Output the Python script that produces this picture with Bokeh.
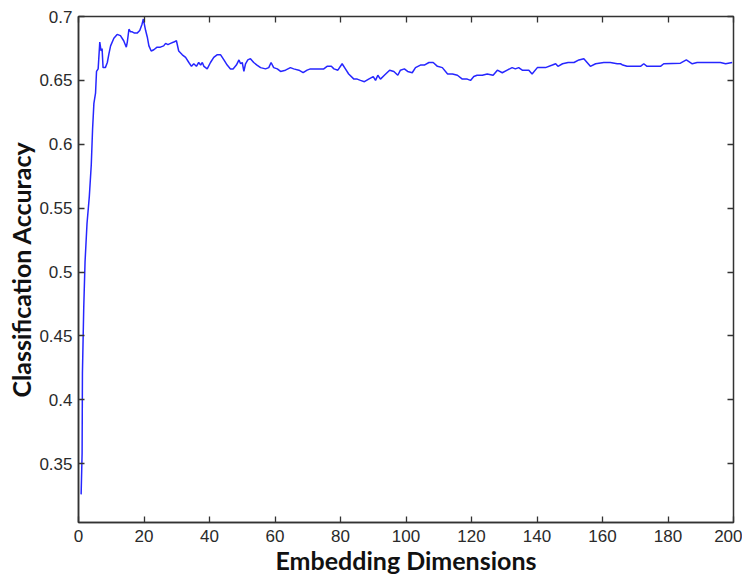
from bokeh.plotting import figure
from bokeh.models import LinearAxis, FixedTicker, CustomJSTickFormatter, Range1d
from bokeh.embed import file_html
from bokeh.resources import INLINE

dims = [0.8, 1.1, 1.2, 1.6, 2.0, 2.6, 3.3, 3.9, 4.3, 4.7, 5.2, 5.5, 6.0, 6.5, 6.9, 7.2, 7.5, 8.2, 8.8, 9.3,
        9.8, 10.8, 11.8, 12.8, 13.8, 14.6, 14.9, 15.4, 15.9, 16.4, 17.1, 17.9, 18.7, 19.4, 19.8, 20.5, 21.0,
        21.5, 22.2, 23.0, 24.0, 25.0, 26.0, 26.6, 27.3, 28.1, 29.1, 29.9, 30.6, 31.7, 32.7, 33.7, 34.5, 35.2,
        36.0, 36.7, 37.3, 37.8, 38.3, 39.3, 40.3, 41.3, 42.3, 43.4, 44.4, 45.4, 46.4, 47.2, 48.2, 49.0, 49.5,
        50.0, 50.5, 51.0, 51.7, 52.5, 53.5, 54.5, 55.6, 57.1, 58.1, 58.8, 59.6, 60.7, 61.7, 63.2, 64.7, 65.7,
        67.3, 68.6, 69.8, 70.8, 72.9, 74.9, 75.9, 77.2, 78.0, 79.2, 80.5, 81.5, 82.5, 84.1, 85.1, 86.1, 87.3,
        88.6, 90.0, 90.7, 91.4, 92.2, 93.4, 95.0, 96.3, 97.5, 98.3, 99.5, 100.5, 101.9, 102.9, 104.4, 105.6,
        107.0, 108.3, 109.6, 111.1, 112.7, 114.2, 115.7, 117.2, 118.7, 119.7, 120.7, 121.7, 123.3, 124.8,
        126.6, 127.9, 129.4, 130.9, 132.4, 133.4, 134.4, 135.5, 137.5, 138.5, 140.1, 142.6, 144.7, 145.7,
        146.4, 147.8, 149.5, 151.3, 152.8, 154.3, 155.3, 156.3, 157.9, 160.4, 162.4, 164.5, 165.5, 166.2,
        167.5, 171.6, 172.6, 173.6, 177.7, 178.7, 183.8, 185.6, 187.4, 188.9, 196.0, 197.6, 199.6]

accuracy = [0.326, 0.358, 0.421, 0.472, 0.508, 0.538, 0.559, 0.584, 0.612, 0.632, 0.640, 0.657, 0.659, 0.680,
            0.673, 0.675, 0.660, 0.660, 0.664, 0.671, 0.677, 0.683, 0.686, 0.685, 0.681, 0.676, 0.680, 0.690,
            0.688, 0.688, 0.687, 0.687, 0.689, 0.694, 0.698, 0.689, 0.684, 0.677, 0.673, 0.674, 0.676, 0.676,
            0.677, 0.679, 0.678, 0.679, 0.680, 0.681, 0.673, 0.670, 0.668, 0.664, 0.661, 0.663, 0.661, 0.664,
            0.662, 0.664, 0.661, 0.659, 0.664, 0.668, 0.670, 0.670, 0.666, 0.662, 0.659, 0.659, 0.662, 0.666,
            0.663, 0.664, 0.657, 0.663, 0.666, 0.667, 0.664, 0.662, 0.660, 0.659, 0.660, 0.664, 0.660, 0.659,
            0.657, 0.658, 0.660, 0.659, 0.658, 0.656, 0.658, 0.659, 0.659, 0.659, 0.661, 0.661, 0.659, 0.658,
            0.663, 0.659, 0.655, 0.651, 0.651, 0.650, 0.649, 0.651, 0.653, 0.650, 0.654, 0.651, 0.654, 0.658,
            0.657, 0.654, 0.658, 0.659, 0.657, 0.656, 0.660, 0.662, 0.662, 0.664, 0.664, 0.661, 0.660, 0.655,
            0.655, 0.654, 0.651, 0.651, 0.650, 0.653, 0.654, 0.654, 0.655, 0.654, 0.658, 0.656, 0.658, 0.660,
            0.659, 0.660, 0.658, 0.658, 0.655, 0.660, 0.660, 0.662, 0.663, 0.661, 0.663, 0.664, 0.664, 0.666,
            0.667, 0.664, 0.661, 0.663, 0.664, 0.664, 0.663, 0.663, 0.662, 0.661, 0.661, 0.663, 0.661, 0.661,
            0.663, 0.6635, 0.666, 0.663, 0.664, 0.664, 0.663, 0.664]

x_ticks = [0, 20, 40, 60, 80, 100, 120, 140, 160, 180, 200]
y_ticks = [0.35, 0.4, 0.45, 0.5, 0.55, 0.6, 0.65, 0.7]

p = figure(width=742, height=579, output_backend="svg", toolbar_location=None,
           x_range=Range1d(0, 200), y_range=Range1d(0.304, 0.7),
           min_border_left=78, min_border_right=9, min_border_top=16, min_border_bottom=57)
p.grid.visible = False
p.outline_line_color = "#333333"
p.outline_line_width = 1.5
p.background_fill_color = "white"
p.border_fill_color = "white"

p.line(dims, accuracy, line_color="#2626ff", line_width=1.5)

fmt = CustomJSTickFormatter(code="return tick.toString();")
for ax in [p.xaxis[0], p.yaxis[0]]:
    ax.major_tick_in = 6
    ax.major_tick_out = 0
    ax.minor_tick_line_color = None
    ax.axis_line_color = "#333333"
    ax.axis_line_width = 1.5
    ax.major_tick_line_color = "#333333"
    ax.major_tick_line_width = 1.3
    ax.major_label_text_font = "Liberation Sans"
    ax.major_label_text_font_size = "17px"
    ax.major_label_text_color = "#2a2a2a"
    ax.axis_label_text_font = "Lato"
    ax.axis_label_text_font_style = "bold"
    ax.axis_label_text_font_size = "25px"
    ax.axis_label_text_color = "#111111"
    ax.formatter = fmt

p.xaxis[0].ticker = FixedTicker(ticks=x_ticks)
p.yaxis[0].ticker = FixedTicker(ticks=y_ticks)
p.xaxis[0].axis_label = "Embedding Dimensions"
p.yaxis[0].axis_label = "Classification Accuracy"
p.xaxis[0].major_label_standoff = 7
p.yaxis[0].major_label_standoff = 6
p.xaxis[0].axis_label_standoff = 0
p.yaxis[0].axis_label_standoff = 0

top = LinearAxis(ticker=FixedTicker(ticks=x_ticks), major_label_text_font_size="1px",
                 major_label_text_color=None,
                 major_tick_in=6, major_tick_out=0, minor_tick_line_color=None,
                 axis_line_color=None, major_label_standoff=0, major_tick_line_color="#333333",
                 major_tick_line_width=1.3)
right = LinearAxis(ticker=FixedTicker(ticks=y_ticks), major_label_text_font_size="1px",
                   major_label_text_color=None,
                   major_tick_in=6, major_tick_out=0, minor_tick_line_color=None,
                   axis_line_color=None, major_label_standoff=0, major_tick_line_color="#333333",
                   major_tick_line_width=1.3)
p.add_layout(top, "above")
p.add_layout(right, "right")

open("out.html", "w").write(file_html(p, INLINE))
